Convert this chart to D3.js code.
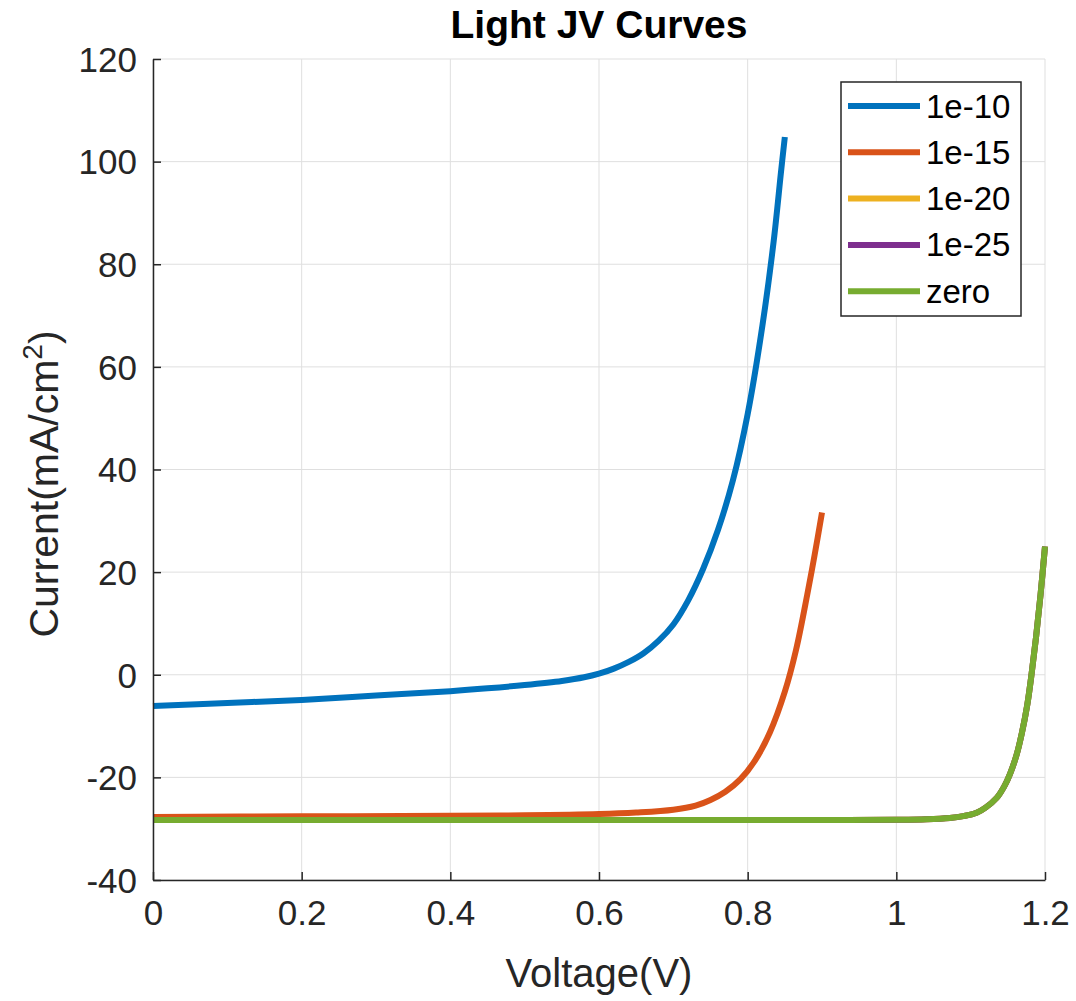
<!DOCTYPE html>
<html>
<head>
<meta charset="utf-8">
<script src="https://cdn.jsdelivr.net/npm/d3@7"></script>
<style>
  body { margin: 0; background: #fff; }
  svg { display: block; font-family: "Liberation Sans", Arial, sans-serif; }
</style>
</head>
<body>
<div id="chart"></div>
<script>
// values
const seriesNames = ["1e-10", "1e-15", "1e-20", "1e-25", "zero"]
const seriesColors = ["#0072BD", "#D95319", "#EDB120", "#7E2F8E", "#77AC30"]

const v1e10 = [0, 0.1, 0.2, 0.3, 0.4, 0.45, 0.5, 0.55, 0.58, 0.6, 0.62, 0.64, 0.66, 0.68, 0.70, 0.72, 0.74, 0.76, 0.78, 0.80, 0.82, 0.835, 0.845, 0.85]
const j1e10 = [-6.1, -5.5, -4.9, -4.05, -3.2, -2.65, -2.0, -1.2, -0.5, 0.2, 1.2, 2.5, 4.2, 6.6, 9.8, 14.5, 20.6, 28.2, 37.8, 50.8, 68.2, 84.5, 98.2, 104.8]

const v1e15 = [0, 0.2, 0.4, 0.5, 0.6, 0.65, 0.7, 0.73, 0.75, 0.77, 0.79, 0.81, 0.83, 0.85, 0.865, 0.88, 0.89, 0.9]
const j1e15 = [-27.7, -27.6, -27.5, -27.4, -27.15, -26.85, -26.3, -25.5, -24.4, -22.8, -20.4, -16.7, -11.2, -3.3, 4.8, 15.5, 23.3, 31.6]

const vRest = [0, 0.2, 0.4, 0.6, 0.8, 0.9, 1.0, 1.04, 1.072, 1.09, 1.108, 1.12, 1.135, 1.145, 1.153, 1.162, 1.169, 1.176, 1.182, 1.188, 1.194, 1.2]
const j1e20 = [-28.3, -28.3, -28.3, -28.3, -28.3, -28.3, -28.25, -28.15, -27.9, -27.55, -26.9, -25.9, -24.0, -21.8, -19.3, -15.5, -11.3, -6.0, 0.2, 7.4, 15.6, 25]
const j1e25 = [-28.3, -28.3, -28.3, -28.3, -28.3, -28.3, -28.25, -28.15, -27.9, -27.55, -26.9, -25.9, -24.0, -21.8, -19.3, -15.5, -11.3, -6.0, 0.2, 7.4, 15.6, 25]
const jZero = [-28.3, -28.3, -28.3, -28.3, -28.3, -28.3, -28.25, -28.15, -27.9, -27.55, -26.9, -25.9, -24.0, -21.8, -19.3, -15.5, -11.3, -6.0, 0.2, 7.4, 15.6, 25]

const xTicks = [0, 0.2, 0.4, 0.6, 0.8, 1, 1.2]
const yTicks = [-40, -20, 0, 20, 40, 60, 80, 100, 120]

const series = [
  {name: seriesNames[0], v: v1e10, j: j1e10},
  {name: seriesNames[1], v: v1e15, j: j1e15},
  {name: seriesNames[2], v: vRest, j: j1e20},
  {name: seriesNames[3], v: vRest, j: j1e25},
  {name: seriesNames[4], v: vRest, j: jZero}
].map((s, i) => ({...s, color: seriesColors[i], points: s.v.map((v, k) => [v, s.j[k]])}))

const width = 1076, height = 1001
const margin = {top: 59, right: 31, bottom: 121, left: 153}
const ink = "#262626"

const x = d3.scaleLinear().domain([0, 1.2]).range([margin.left, width - margin.right])
const y = d3.scaleLinear().domain([-40, 120]).range([height - margin.bottom, margin.top])

const svg = d3.select("#chart").append("svg")
    .attr("width", width)
    .attr("height", height)

// grid
const grid = svg.append("g").attr("stroke", "#dfdfdf").attr("stroke-width", 1)
grid.selectAll("line.gx").data(xTicks).join("line")
    .attr("x1", d => x(d)).attr("x2", d => x(d))
    .attr("y1", y(-40)).attr("y2", y(120))
grid.selectAll("line.gy").data(yTicks).join("line")
    .attr("x1", x(0)).attr("x2", x(1.2))
    .attr("y1", d => y(d)).attr("y2", d => y(d))

// lines
const line = d3.line()
    .x(d => x(d[0]))
    .y(d => y(d[1]))
    .curve(d3.curveCatmullRom.alpha(0.5))

svg.append("g")
    .attr("fill", "none")
    .attr("stroke-width", 6)
  .selectAll("path")
  .data(series)
  .join("path")
    .attr("stroke", d => d.color)
    .attr("d", d => line(d.points))

// axes
const fmt = d => d3.format("~g")(d).replace("\u2212", "-")
const xAxis = d3.axisBottom(x).tickValues(xTicks).tickSizeInner(-8).tickSizeOuter(0).tickPadding(20)
    .tickFormat(fmt)
const yAxis = d3.axisLeft(y).tickValues(yTicks).tickSizeInner(-8).tickSizeOuter(0).tickPadding(16)
    .tickFormat(fmt)

const gx = svg.append("g")
    .attr("transform", `translate(0,${y(-40)})`)
    .call(xAxis)
const gy = svg.append("g")
    .attr("transform", `translate(${x(0)},0)`)
    .call(yAxis)

for (const g of [gx, gy]) {
  g.select(".domain").attr("stroke", ink).attr("stroke-width", 1.5)
  g.selectAll(".tick line").attr("stroke", ink).attr("stroke-width", 1.5)
  g.selectAll(".tick text")
    .attr("fill", ink)
    .attr("font-size", 35)
    .attr("font-family", "Liberation Sans, Arial, sans-serif")
}
gy.selectAll(".tick text").attr("dy", "0.35em")

// title and labels
svg.append("text")
    .attr("x", (x(0) + x(1.2)) / 2)
    .attr("y", 38)
    .attr("text-anchor", "middle")
    .attr("font-size", 39)
    .attr("font-weight", "bold")
    .attr("fill", "#000")
    .text("Light JV Curves")

svg.append("text")
    .attr("x", (x(0) + x(1.2)) / 2)
    .attr("y", 987)
    .attr("text-anchor", "middle")
    .attr("font-size", 40)
    .attr("fill", ink)
    .text("Voltage(V)")

const ylab = svg.append("text")
    .attr("transform", `translate(58,484) rotate(-90)`)
    .attr("text-anchor", "middle")
    .attr("font-size", 41)
    .attr("fill", ink)
ylab.append("tspan").text("Current(mA/cm")
ylab.append("tspan").attr("dy", -16).attr("font-size", 28).text("2")
ylab.append("tspan").attr("dy", 16).text(")")

// legend
const legend = svg.append("g").attr("transform", "translate(841,82)")
legend.append("rect")
    .attr("width", 180).attr("height", 234)
    .attr("fill", "#fff")
    .attr("stroke", ink)
    .attr("stroke-width", 1.5)

const item = legend.selectAll("g.item").data(series).join("g")
    .attr("class", "item")
    .attr("transform", (d, i) => `translate(0,${24 + i * 46.3})`)
item.append("line")
    .attr("x1", 7).attr("x2", 79)
    .attr("stroke", d => d.color)
    .attr("stroke-width", 6)
item.append("text")
    .attr("x", 85)
    .attr("dy", "0.35em")
    .attr("font-size", 33)
    .attr("fill", "#000")
    .text(d => d.name)
</script>
</body>
</html>
